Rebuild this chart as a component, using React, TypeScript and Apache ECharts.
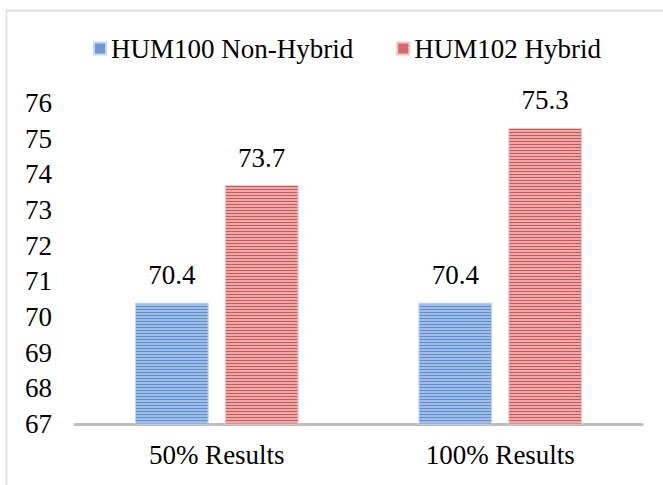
import React, { useEffect, useRef } from "react";
import * as echarts from "echarts";

const categories = ["50% Results", "100% Results"];
const seriesNames = ["HUM100 Non-Hybrid", "HUM102 Hybrid"];
const nonHybrid = [70.4, 70.4];
const hybrid = [73.7, 75.3];
const yMin = 67;
const yMax = 76;

const font = "Liberation Serif";
const fs = 27;

function stripes(base: string, line: string): string {
  const c = document.createElement("canvas");
  c.width = 4;
  c.height = 3;
  const ctx = c.getContext("2d")!;
  ctx.fillStyle = base;
  ctx.fillRect(0, 0, 4, 3);
  ctx.fillStyle = line;
  ctx.fillRect(0, 0, 4, 1);
  return c.toDataURL();
}

export default function App() {
  const ref = useRef<HTMLDivElement>(null);
  useEffect(() => {
    if (!ref.current) return;
    document.body.style.margin = "0";
    const chart = echarts.init(ref.current, undefined, { renderer: "svg" });
    const bluePat = { image: stripes("#9fbde5", "#5f8ed0"), repeat: "repeat" };
    const redPat = { image: stripes("#e8aaaa", "#d05656"), repeat: "repeat" };
    const label = {
      show: true,
      position: "top",
      distance: 14,
      color: "#000",
      fontFamily: font,
      fontSize: fs,
    };
    chart.setOption({
      animation: false,
      graphic: [
        {
          type: "rect",
          shape: { x: 6.5, y: 10.5, width: 700, height: 500 },
          style: { fill: "none", stroke: "#d9d9d9", lineWidth: 1.5 },
          silent: true,
        },
      ],
      legend: {
        top: 30,
        left: 88,
        itemWidth: 12,
        itemHeight: 12,
        itemGap: 43,
        icon: "rect",
        textStyle: { fontFamily: font, fontSize: fs, color: "#000" },
        data: [
          { name: seriesNames[0], itemStyle: { color: "#6f98d6" } },
          { name: seriesNames[1], itemStyle: { color: "#d66a6a" } },
        ],
      },
      grid: { left: 75, right: 21, top: 103, bottom: 61 },
      xAxis: {
        type: "category",
        data: categories,
        axisLine: { lineStyle: { color: "#bfbfbf", width: 3 } },
        axisTick: { show: false },
        axisLabel: { color: "#000", fontFamily: font, fontSize: fs, margin: 17 },
      },
      yAxis: {
        type: "value",
        min: yMin,
        max: yMax,
        interval: 1,
        axisLine: { show: false },
        axisTick: { show: false },
        splitLine: { show: false },
        axisLabel: { color: "#000", fontFamily: font, fontSize: fs, margin: 23 },
      },
      series: [
        {
          name: seriesNames[0],
          type: "bar",
          data: nonHybrid,
          barWidth: "26%",
          barGap: "22%",
          itemStyle: { color: bluePat, borderColor: "#c5d7ef", borderWidth: 1 },
          label,
        },
        {
          name: seriesNames[1],
          type: "bar",
          data: hybrid,
          barWidth: "26%",
          itemStyle: { color: redPat, borderColor: "#efc6c6", borderWidth: 1 },
          label,
        },
      ],
    });
    return () => chart.dispose();
  }, []);
  return (
    <div>
      <div ref={ref} style={{ width: 663, height: 485 }} />
    </div>
  );
}
